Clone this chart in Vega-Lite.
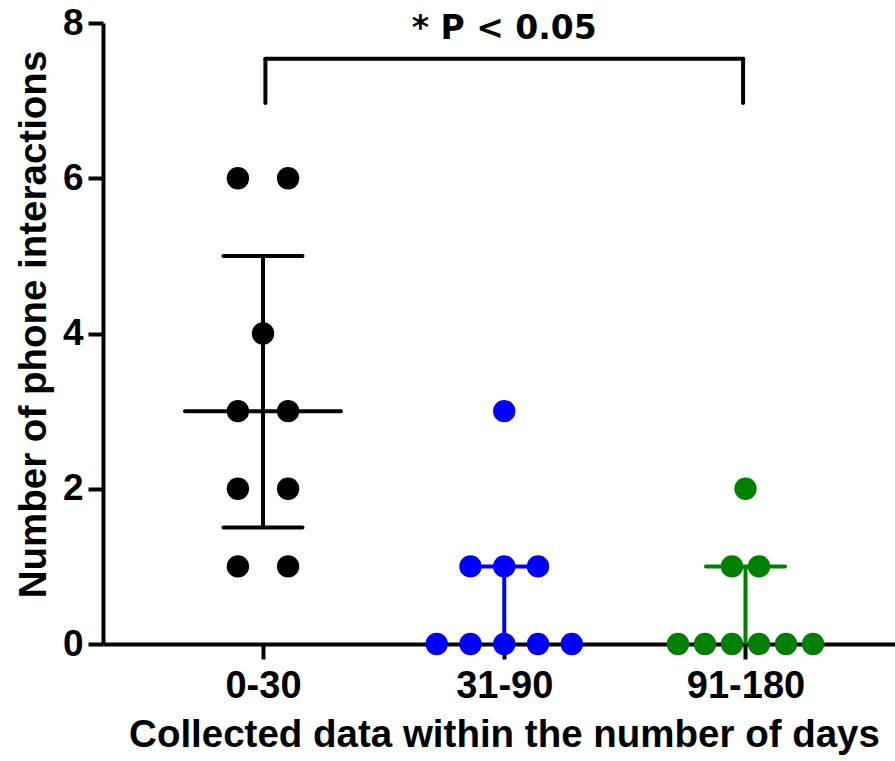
{
  "$schema": "https://vega.github.io/schema/vega-lite/v6.json",
  "width": 792,
  "height": 621,
  "autosize": {"type": "none"},
  "padding": {"left": 103, "top": 23, "right": 0, "bottom": 117},
  "background": "white",
  "config": {"view": {"stroke": null}},
  "datasets": {
    "points": [
      {"group": "0-30", "pos": 0.896, "value": 6},
      {"group": "0-30", "pos": 1.104, "value": 6},
      {"group": "0-30", "pos": 1.0, "value": 4},
      {"group": "0-30", "pos": 0.896, "value": 3},
      {"group": "0-30", "pos": 1.104, "value": 3},
      {"group": "0-30", "pos": 0.896, "value": 2},
      {"group": "0-30", "pos": 1.104, "value": 2},
      {"group": "0-30", "pos": 0.896, "value": 1},
      {"group": "0-30", "pos": 1.104, "value": 1},
      {"group": "31-90", "pos": 2.0, "value": 3},
      {"group": "31-90", "pos": 1.86, "value": 1},
      {"group": "31-90", "pos": 2.0, "value": 1},
      {"group": "31-90", "pos": 2.14, "value": 1},
      {"group": "31-90", "pos": 1.72, "value": 0},
      {"group": "31-90", "pos": 1.86, "value": 0},
      {"group": "31-90", "pos": 2.0, "value": 0},
      {"group": "31-90", "pos": 2.14, "value": 0},
      {"group": "31-90", "pos": 2.28, "value": 0},
      {"group": "91-180", "pos": 3.0, "value": 2},
      {"group": "91-180", "pos": 2.944, "value": 1},
      {"group": "91-180", "pos": 3.056, "value": 1},
      {"group": "91-180", "pos": 2.72, "value": 0},
      {"group": "91-180", "pos": 2.832, "value": 0},
      {"group": "91-180", "pos": 2.944, "value": 0},
      {"group": "91-180", "pos": 3.056, "value": 0},
      {"group": "91-180", "pos": 3.168, "value": 0},
      {"group": "91-180", "pos": 3.28, "value": 0}
    ],
    "iqr": [
      {"group": "0-30", "pos": 1, "value": 1.5, "value2": 5},
      {"group": "31-90", "pos": 2, "value": 0, "value2": 1},
      {"group": "91-180", "pos": 3, "value": 0, "value2": 1}
    ],
    "quartiles": [
      {"group": "0-30", "pos": 1, "stat": "q1", "value": 1.5},
      {"group": "0-30", "pos": 1, "stat": "q3", "value": 5},
      {"group": "31-90", "pos": 2, "stat": "q3", "value": 1},
      {"group": "91-180", "pos": 3, "stat": "q3", "value": 1}
    ],
    "medians": [
      {"group": "0-30", "pos": 1, "stat": "median", "value": 3}
    ],
    "bracket": [
      {"pos": 1.01, "pos2": 2.99, "value": 7.54, "value2": 7.54},
      {"pos": 1.01, "pos2": 1.01, "value": 6.97, "value2": 7.54},
      {"pos": 2.99, "pos2": 2.99, "value": 6.97, "value2": 7.54}
    ],
    "note": [
      {"pos": 2.0, "value": 7.79, "label": "* P < 0.05"}
    ]
  },
  "encoding": {
    "x": {
      "field": "pos",
      "type": "quantitative",
      "scale": {"domain": [0.3368, 3.6197], "nice": false, "zero": false},
      "axis": {
        "title": "Collected data within the number of days",
        "values": [1, 2, 3],
        "labelExpr": "datum.value == 1 ? '0-30' : datum.value == 2 ? '31-90' : '91-180'",
        "grid": false,
        "domainColor": "black",
        "domainWidth": 4,
        "tickColor": "black",
        "tickWidth": 4,
        "tickSize": 15,
        "labelFont": "Liberation Sans",
        "labelFontSize": 38,
        "labelFontWeight": "bold",
        "labelColor": "black",
        "labelBaseline": "alphabetic",
        "labelPadding": 38,
        "labelFlush": false,
        "labelOverlap": false,
        "titleFont": "Liberation Sans",
        "titleFontSize": 38.5,
        "titleFontWeight": "bold",
        "titleColor": "black",
        "titleX": 401,
        "titleY": 102,
        "titleBaseline": "alphabetic",
        "titleAlign": "center"
      }
    },
    "y": {
      "field": "value",
      "type": "quantitative",
      "scale": {"domain": [0, 8], "nice": false},
      "axis": {
        "title": "Number of phone interactions",
        "values": [0, 2, 4, 6, 8],
        "grid": false,
        "domainColor": "black",
        "domainWidth": 4,
        "tickColor": "black",
        "tickWidth": 4,
        "tickSize": 15,
        "labelFont": "Liberation Sans",
        "labelFontSize": 37,
        "labelFontWeight": "bold",
        "labelColor": "black",
        "labelPadding": 5,
        "labelFlush": false,
        "labelOverlap": false,
        "titleFont": "Liberation Sans",
        "titleFontSize": 38.5,
        "titleFontWeight": "bold",
        "titleColor": "black",
        "titleX": -58,
        "titleY": 301,
        "titleAngle": 270,
        "titleBaseline": "alphabetic",
        "titleAlign": "center"
      }
    }
  },
  "layer": [
    {
      "data": {"name": "iqr"},
      "mark": {"type": "rule", "strokeWidth": 4},
      "encoding": {
        "y2": {"field": "value2"},
        "color": {
          "field": "group",
          "type": "nominal",
          "scale": {"domain": ["0-30", "31-90", "91-180"], "range": ["#000000", "#0000ff", "#008000"]},
          "legend": null
        }
      }
    },
    {
      "data": {"name": "quartiles"},
      "mark": {"type": "tick", "orient": "horizontal", "size": 83, "thickness": 4, "opacity": 1, "cornerRadius": 2},
      "encoding": {
        "color": {"field": "group", "type": "nominal", "legend": null}
      }
    },
    {
      "data": {"name": "medians"},
      "mark": {"type": "tick", "orient": "horizontal", "size": 160, "thickness": 4, "opacity": 1, "cornerRadius": 2},
      "encoding": {
        "color": {"field": "group", "type": "nominal", "legend": null}
      }
    },
    {
      "data": {"name": "points"},
      "mark": {"type": "circle", "size": 500, "opacity": 1},
      "encoding": {
        "color": {"field": "group", "type": "nominal", "legend": null}
      }
    },
    {
      "data": {"name": "bracket"},
      "mark": {"type": "rule", "strokeWidth": 4, "strokeCap": "round", "color": "black"},
      "encoding": {
        "x2": {"field": "pos2"},
        "y2": {"field": "value2"}
      }
    },
    {
      "data": {"name": "note"},
      "mark": {"type": "text", "font": "DejaVu Sans", "fontWeight": "bold", "fontSize": 33, "baseline": "alphabetic", "align": "center", "color": "black"},
      "encoding": {
        "text": {"field": "label"}
      }
    }
  ]
}
